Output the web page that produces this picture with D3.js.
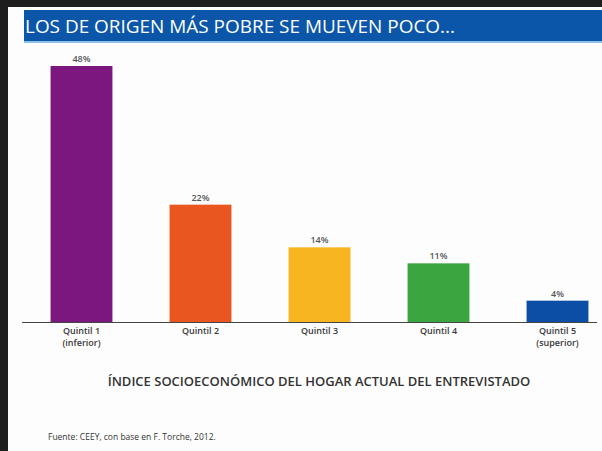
<!DOCTYPE html>
<html>
<head>
<meta charset="utf-8">
<script src="https://cdn.jsdelivr.net/npm/d3@7"></script>
<style>
  body { margin: 0; background: #1e1e1e; }
  svg { display: block; }
</style>
</head>
<body>
<div id="chart"></div>
<script>
// Data
const quintiles = ["Quintil 1", "Quintil 2", "Quintil 3", "Quintil 4", "Quintil 5"];
const subLabels = ["(inferior)", "", "", "", "(superior)"];
const values = [48, 22, 14, 11, 4];
const barColors = ["#7c177f", "#e9561f", "#f7b51f", "#3ba640", "#0c4ea6"];

const width = 602;
const height = 451;

const svg = d3.select("#chart")
    .append("svg")
    .attr("width", width)
    .attr("height", height);

// Page (white sheet on a dark backdrop)
svg.append("rect")
    .attr("x", 8)
    .attr("y", 7)
    .attr("width", width - 8)
    .attr("height", height - 7)
    .attr("fill", "#fdfdfd");

// Title bar
svg.append("rect")
    .attr("x", 24)
    .attr("y", 10)
    .attr("width", width - 24)
    .attr("height", 32)
    .attr("fill", "#0b56a8");
svg.append("rect")
    .attr("x", 24)
    .attr("y", 41)
    .attr("width", width - 24)
    .attr("height", 2)
    .attr("fill", "#8ec3e6");

svg.append("text")
    .attr("x", 25)
    .attr("y", 33)
    .attr("fill", "#ffffff")
    .attr("font-family", "Open Sans, sans-serif")
    .attr("font-size", "19px")
    .attr("textLength", 430)
    .attr("lengthAdjust", "spacingAndGlyphs")
    .text("LOS DE ORIGEN MÁS POBRE SE MUEVEN POCO...");

// Scales
const baseline = 322;
const xScale = d3.scaleBand()
    .domain(quintiles)
    .range([22, 617])
    .paddingInner(0.48)
    .paddingOuter(0.24);

const yScale = d3.scaleLinear()
    .domain([0, 48])
    .range([baseline, 66]);

// Bars
svg.selectAll(".bar")
    .data(values)
    .enter()
    .append("rect")
    .attr("class", "bar")
    .attr("x", (d, i) => xScale(quintiles[i]))
    .attr("y", d => yScale(d))
    .attr("width", xScale.bandwidth())
    .attr("height", d => baseline - yScale(d))
    .attr("fill", (d, i) => barColors[i]);

// Value labels
svg.selectAll(".value")
    .data(values)
    .enter()
    .append("text")
    .attr("class", "value")
    .attr("x", (d, i) => xScale(quintiles[i]) + xScale.bandwidth() / 2)
    .attr("y", d => yScale(d) - 4)
    .attr("text-anchor", "middle")
    .attr("font-family", "Open Sans, sans-serif")
    .attr("font-size", "9px")
    .attr("font-weight", "600")
    .attr("fill", "#555")
    .text(d => d + "%");

// X axis
const xAxis = svg.append("g")
    .attr("transform", `translate(0, ${baseline})`)
    .call(d3.axisBottom(xScale).tickSize(0).tickPadding(6))
    .attr("font-family", "Open Sans, sans-serif")
    .attr("font-size", "9px");
xAxis.select(".domain")
    .attr("d", "M22,0.5H597")
    .attr("stroke", "#444");
xAxis.selectAll(".tick text")
    .attr("fill", "#3a3a3a")
    .attr("font-weight", "600");

xAxis.selectAll(".tick")
    .append("text")
    .attr("y", 24)
    .attr("fill", "#3a3a3a")
    .attr("text-anchor", "middle")
    .attr("font-weight", "600")
    .text((d, i) => subLabels[i]);

// Axis title
svg.append("text")
    .attr("x", 319)
    .attr("y", 386)
    .attr("text-anchor", "middle")
    .attr("font-family", "Open Sans, sans-serif")
    .attr("font-size", "13px")
    .attr("font-weight", "600")
    .attr("fill", "#333")
    .text("ÍNDICE SOCIOECONÓMICO DEL HOGAR ACTUAL DEL ENTREVISTADO");

// Source
svg.append("text")
    .attr("x", 48)
    .attr("y", 440)
    .attr("font-family", "Open Sans, sans-serif")
    .attr("font-size", "8.5px")
    .attr("fill", "#333")
    .text("Fuente: CEEY, con base en F. Torche, 2012.");
</script>
</body>
</html>
